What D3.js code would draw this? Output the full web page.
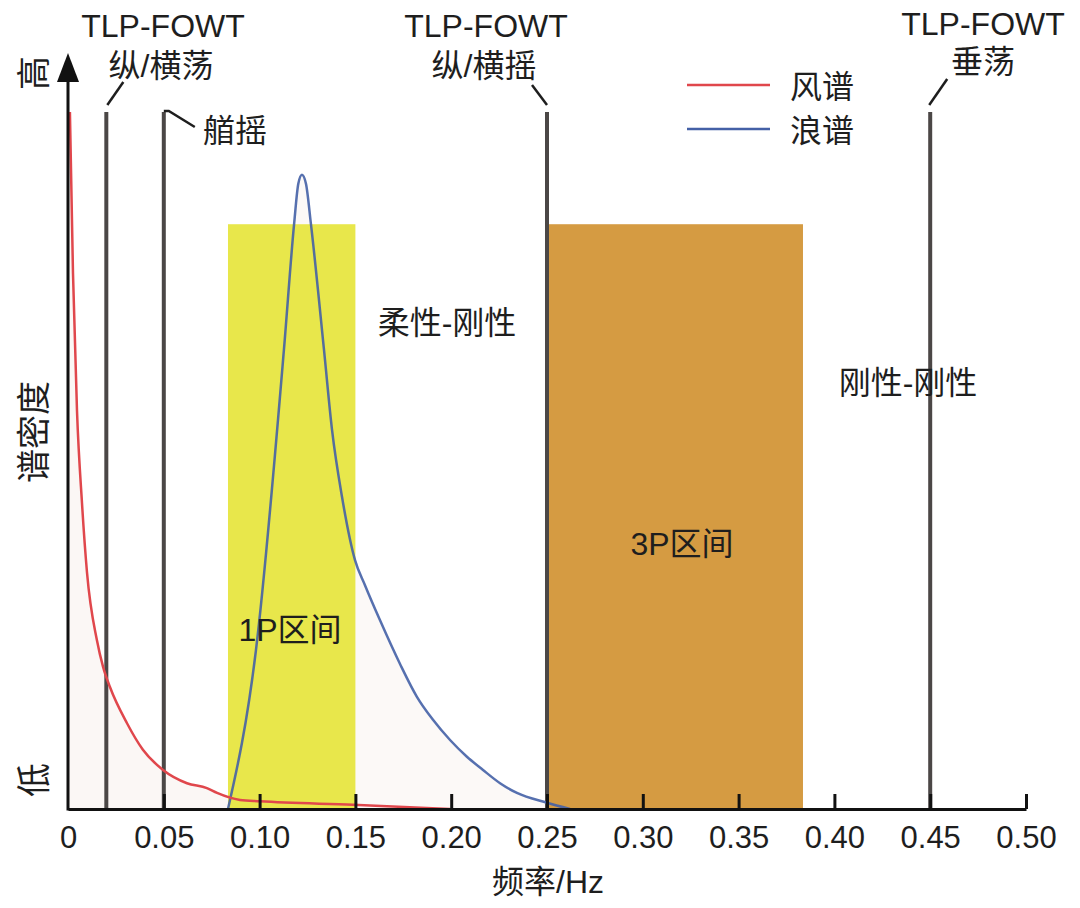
<!DOCTYPE html>
<html>
<head>
<meta charset="utf-8">
<script src="https://cdn.jsdelivr.net/npm/d3@7"></script>
<style>
  body { margin: 0; background: #fff; }
  text { font-family: "Liberation Sans", Arial, "Noto Sans CJK SC", sans-serif; fill: #1e1e1e; }
</style>
</head>
<body>
<svg id="chart"></svg>
<script>
// wind spectrum (red)
const windFreq    = [0.001, 0.0026, 0.0047, 0.0073, 0.0099, 0.0151, 0.0183, 0.0219, 0.0308, 0.0391, 0.0496, 0.0621, 0.0725, 0.0778, 0.0898, 0.1002, 0.1487, 0.1994];
const windDensity = [1.0,   0.769,  0.571,  0.439,  0.340,  0.242,  0.204,  0.175,  0.123,  0.085,  0.056,  0.037,  0.030,  0.023,  0.013,  0.011,  0.006,  0.0];

// wave spectrum (blue)
const waveFreq    = [0.0835, 0.0981, 0.1127, 0.1180, 0.1202, 0.1221, 0.1242, 0.1268, 0.1336, 0.1378, 0.1430, 0.1498, 0.1550, 0.1628, 0.1733, 0.1821, 0.1905, 0.1994, 0.2082, 0.2166, 0.2255, 0.2343, 0.2500, 0.2620];
const waveDensity = [0.0,    0.228,  0.659,  0.839,  0.897,  0.910,  0.897,  0.839,  0.659,  0.544,  0.448,  0.357,  0.321,  0.271,  0.208,  0.161,  0.128,  0.099,  0.075,  0.056,  0.037,  0.023,  0.009,  0.0];

// natural frequencies of the platform modes
const modeFreqs = [0.02, 0.05, 0.25, 0.45];

// rotor excitation bands
const bandNames = ['1P区间', '3P区间'];
const bandStart = [0.0835, 0.251];
const bandEnd   = [0.150, 0.3836];
const bandTop   = 0.839;

const xTicks = [0, 0.05, 0.10, 0.15, 0.20, 0.25, 0.30, 0.35, 0.40, 0.45, 0.50];

const legendNames = ['风谱', '浪谱'];

const width = 1080, height = 908;
const svg = d3.select('#chart').attr('width', width).attr('height', height);

const xScale = d3.scaleLinear().domain([0, 0.5]).range([68, 1026]);
const yScale = d3.scaleLinear().domain([0, 1]).range([809, 112]);

const colors = { wind: '#e0474c', wave: '#4460a6', mode: '#4b4746', yellow: '#e8e74b', orange: '#d59b42' };

const wind = windFreq.map((f, i) => ({ f: f, v: windDensity[i] }));
const wave = waveFreq.map((f, i) => ({ f: f, v: waveDensity[i] }));

// faint tint under the curves (drawn first, bands cover it)
const area = d3.area().x(d => xScale(d.f)).y0(yScale(0)).y1(d => yScale(d.v)).curve(d3.curveMonotoneX);
svg.append('path').datum([{ f: 0, v: 1 }].concat(wind)).attr('d', area).attr('fill', '#fbf7f5');
svg.append('path').datum(wave).attr('d', area).attr('fill', '#fcf9f7');

// bands
const bandData = bandNames.map((n, i) => ({ name: n, x0: bandStart[i], x1: bandEnd[i] }));
svg.selectAll('rect.band')
  .data(bandData)
  .join('rect')
    .attr('class', 'band')
    .attr('x', d => xScale(d.x0))
    .attr('y', yScale(bandTop))
    .attr('width', d => xScale(d.x1) - xScale(d.x0))
    .attr('height', yScale(0) - yScale(bandTop))
    .attr('fill', (d, i) => i === 0 ? colors.yellow : colors.orange);

// mode lines
svg.selectAll('line.mode')
  .data(modeFreqs)
  .join('line')
    .attr('class', 'mode')
    .attr('x1', d => xScale(d)).attr('x2', d => xScale(d))
    .attr('y1', yScale(0)).attr('y2', yScale(1))
    .attr('stroke', colors.mode)
    .attr('stroke-width', 4);

// leader lines from mode lines to labels
const lead = svg.append('g').attr('stroke', '#1e1e1e').attr('stroke-width', 2.5).attr('fill', 'none');
lead.append('path').attr('d', `M${xScale(0.02) + 1},${yScale(1) - 7} L${xScale(0.02) + 17},${yScale(1) - 30}`);
lead.append('path').attr('d', `M${xScale(0.05)},${yScale(1) - 1} L${xScale(0.05) + 5},${yScale(1) - 1} L${xScale(0.05) + 31},${yScale(1) + 15}`);
lead.append('path').attr('d', `M${xScale(0.25)},${yScale(1) - 7} L${xScale(0.25) - 15},${yScale(1) - 27}`);
lead.append('path').attr('d', `M${xScale(0.45) - 1},${yScale(1) - 7} L${xScale(0.45) + 17},${yScale(1) - 33}`);

// curves
const line = d3.line().x(d => xScale(d.f)).y(d => yScale(d.v)).curve(d3.curveMonotoneX);
svg.append('path').datum(wave).attr('d', line)
  .attr('fill', 'none').attr('stroke', colors.wave).attr('stroke-width', 2.5).attr('stroke-opacity', 0.9);
svg.append('path').datum(wind).attr('d', line)
  .attr('fill', 'none').attr('stroke', colors.wind).attr('stroke-width', 2.5);

// x axis, ticks pointing inward
const xAxis = svg.append('g')
  .attr('transform', `translate(0,${yScale(0)})`)
  .call(d3.axisBottom(xScale)
    .tickValues(xTicks)
    .tickSize(-15)
    .tickSizeOuter(0)
    .tickPadding(17)
    .tickFormat(d => d === 0 ? '0' : d.toFixed(2)));
xAxis.select('.domain').attr('stroke', '#111').attr('stroke-width', 3);
xAxis.selectAll('.tick line').attr('stroke', '#111').attr('stroke-width', 3);
xAxis.selectAll('.tick text')
  .attr('font-size', 31)
  .attr('font-family', '"Liberation Sans", Arial, sans-serif')
  .attr('fill', '#1e1e1e');
xAxis.select('.tick line').remove();

// y axis with arrow
svg.append('line')
  .attr('x1', xScale(0)).attr('x2', xScale(0))
  .attr('y1', yScale(0) + 1.5).attr('y2', 78)
  .attr('stroke', '#111').attr('stroke-width', 3);
svg.append('path')
  .attr('d', `M${xScale(0)},53 L${xScale(0) - 11},82 L${xScale(0) + 11},82 Z`)
  .attr('fill', '#111');

// labels
function label(x, y, txt, size, anchor) {
  return svg.append('text')
    .attr('x', x).attr('y', y)
    .attr('font-size', size)
    .attr('text-anchor', anchor || 'middle')
    .text(txt);
}

label(163, 37, 'TLP-FOWT', 32);
label(161, 77, '纵/横荡', 32);
label(203, 142, '艏摇', 32, 'start');
label(486, 37, 'TLP-FOWT', 32);
label(484, 77, '纵/横摇', 32);
label(983, 35, 'TLP-FOWT', 32);
label(983, 73, '垂荡', 32);

label(447, 334, '柔性-刚性', 32);
label(908, 394, '刚性-刚性', 32);
label(xScale(bandStart[0]) + 62, 641, bandNames[0], 32);
label(682, 555, bandNames[1], 32);

label(548, 893, '频率/Hz', 32);

// rotated y labels
[['高', 73], ['谱密度', 432], ['低', 780]].forEach(d => {
  svg.append('text')
    .attr('transform', `translate(46,${d[1]}) rotate(-90)`)
    .attr('font-size', 34)
    .attr('text-anchor', 'middle')
    .text(d[0]);
});

// legend
const legend = svg.append('g');
legendNames.forEach((n, i) => {
  const y = 85 + i * 44;
  legend.append('line')
    .attr('x1', 687).attr('x2', 770).attr('y1', y).attr('y2', y)
    .attr('stroke', i === 0 ? colors.wind : colors.wave)
    .attr('stroke-width', 2.5);
  legend.append('text')
    .attr('x', 790).attr('y', y + 13)
    .attr('font-size', 32)
    .text(n);
});
</script>
</body>
</html>
